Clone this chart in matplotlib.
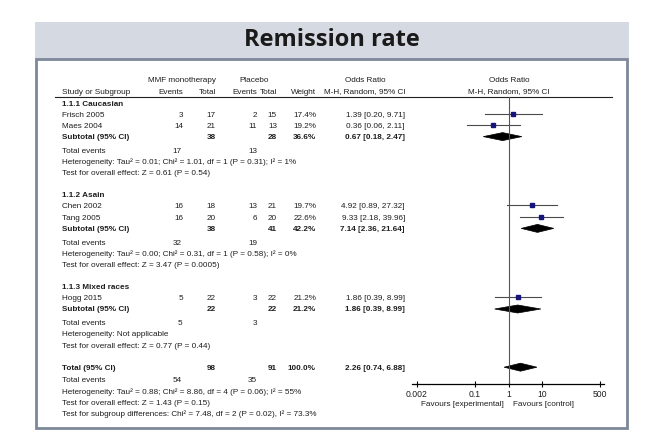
import matplotlib
matplotlib.use("Agg")
import matplotlib.pyplot as plt
from matplotlib.patches import Rectangle, Polygon

# study data
studies = ["Frisch 2005", "Maes 2004", "Chen 2002", "Tang 2005", "Hogg 2015"]
study_group = [0, 0, 1, 1, 2]
mmf_events = [3, 14, 16, 16, 5]
mmf_total = [17, 21, 18, 20, 22]
pla_events = [2, 11, 13, 6, 3]
pla_total = [15, 13, 21, 20, 22]
weights = [17.4, 19.2, 19.7, 22.6, 21.2]
or_est = [1.39, 0.36, 4.92, 9.33, 1.86]
or_lo = [0.20, 0.06, 0.89, 2.18, 0.39]
or_hi = [9.71, 2.11, 27.32, 39.96, 8.99]

# subgroups
groups = ["1.1.1 Caucasian", "1.1.2 Asain", "1.1.3 Mixed races"]
sub_mmf_total = [38, 38, 22]
sub_pla_total = [28, 41, 22]
sub_weight = [36.6, 42.2, 21.2]
sub_or = [0.67, 7.14, 1.86]
sub_lo = [0.18, 2.36, 0.39]
sub_hi = [2.47, 21.64, 8.99]
sub_mmf_events = [17, 32, 5]
sub_pla_events = [13, 19, 3]
sub_het = ["Heterogeneity: Tau² = 0.01; Chi² = 1.01, df = 1 (P = 0.31); I² = 1%",
           "Heterogeneity: Tau² = 0.00; Chi² = 0.31, df = 1 (P = 0.58); I² = 0%",
           "Heterogeneity: Not applicable"]
sub_test = ["Test for overall effect: Z = 0.61 (P = 0.54)",
            "Test for overall effect: Z = 3.47 (P = 0.0005)",
            "Test for overall effect: Z = 0.77 (P = 0.44)"]

# overall
tot_mmf_total, tot_pla_total = 98, 91
tot_weight = 100.0
tot_or, tot_lo, tot_hi = 2.26, 0.74, 6.88
tot_mmf_events, tot_pla_events = 54, 35
tot_lines = ["Heterogeneity: Tau² = 0.88; Chi² = 8.86, df = 4 (P = 0.06); I² = 55%",
             "Test for overall effect: Z = 1.43 (P = 0.15)",
             "Test for subgroup differences: Chi² = 7.48, df = 2 (P = 0.02), I² = 73.3%"]

axis_ticks = [0.002, 0.1, 1, 10, 500]
axis_labels = ["0.002", "0.1", "1", "10", "500"]

plt.rcParams['font.family'] = ['Liberation Sans', 'DejaVu Sans']
FS = 5.9
TXT = "#1e1e1e"

W, H = 650, 442
fig = plt.figure(figsize=(W / 100, H / 100), dpi=100)
fig.patch.set_facecolor("white")

# pixel-coordinate canvas for text and frame
ax = fig.add_axes([0, 0, 1, 1])
ax.set_xlim(0, W)
ax.set_ylim(H, 0)
ax.axis("off")

ax.add_patch(Rectangle((35, 22), 594, 37, facecolor="#d5dae2", edgecolor="none"))
ax.add_patch(Rectangle((36, 59), 591, 369, facecolor="white", edgecolor="#7d8898", lw=2))
ax.text(332, 40, "Remission rate", ha="center", va="center", fontsize=17,
        fontweight="bold", family=["Open Sans", "DejaVu Sans"], color="#1a1a1a")

# forest axes: log-x, y in pixel rows
x0_px, x1_px = 412, 604
fx = fig.add_axes([x0_px / W, 0, (x1_px - x0_px) / W, 1])
fx.set_xscale("log")
fx.set_xlim(0.00142, 656)
fx.set_ylim(H, 0)
fx.patch.set_alpha(0)
for s in ["top", "left", "right"]:
    fx.spines[s].set_visible(False)
fx.spines["bottom"].set_position(("data", 384))
fx.spines["bottom"].set_linewidth(0.9)
fx.set_yticks([])
fx.set_xticks(axis_ticks)
fx.set_xticklabels(axis_labels)
fx.xaxis.set_minor_locator(matplotlib.ticker.NullLocator())
fx.tick_params(axis="x", direction="inout", length=5, width=0.8, pad=1.5,
               labelsize=FS + 0.3, labelcolor=TXT)

col_ev1, col_tot1, col_ev2, col_tot2, col_w, col_or = 183, 216, 257, 277, 316, 405
x_lab = 62


def put(x, y, s, ha="right", bold=False):
    ax.text(x, y, s, ha=ha, va="center", fontsize=FS, color=TXT,
            fontweight="bold" if bold else "normal")


def diamond(y, est, lo, hi):
    fx.add_patch(Polygon([(lo, y), (est, y - 4), (hi, y), (est, y + 4)],
                         closed=True, facecolor="black", edgecolor="black", lw=0.5))


# headers
put(182, 81, "MMF monotherapy", ha="center")
put(254, 81, "Placebo", ha="center")
put(365, 81, "Odds Ratio", ha="center")
put(509, 81, "Odds Ratio", ha="center")
put(x_lab, 92, "Study or Subgroup", ha="left")
put(col_ev1, 92, "Events")
put(col_tot1, 92, "Total")
put(col_ev2, 92, "Events")
put(col_tot2, 92, "Total")
put(col_w, 92, "Weight")
put(365, 92, "M-H, Random, 95% CI", ha="center")
put(509, 92, "M-H, Random, 95% CI", ha="center")
ax.plot([55, 612], [96.5, 96.5], color="#222222", lw=0.8)

step = 11.2
y = 104
for g, name in enumerate(groups):
    put(x_lab, y, name, ha="left", bold=True)
    for i in range(len(studies)):
        if study_group[i] != g:
            continue
        y += step
        put(x_lab, y, studies[i], ha="left")
        put(col_ev1, y, str(mmf_events[i]))
        put(col_tot1, y, str(mmf_total[i]))
        put(col_ev2, y, str(pla_events[i]))
        put(col_tot2, y, str(pla_total[i]))
        put(col_w, y, "%.1f%%" % weights[i])
        put(col_or, y, "%.2f [%.2f, %.2f]" % (or_est[i], or_lo[i], or_hi[i]))
        fx.plot([or_lo[i], or_hi[i]], [y - 1.5, y - 1.5], color="#4a4a4a", lw=0.8)
        fx.plot(or_est[i], y - 1.5, marker="s", ms=2.4, color="#14147a", mec="#14147a")
    y += step
    put(x_lab, y, "Subtotal (95% CI)", ha="left", bold=True)
    put(col_tot1, y, str(sub_mmf_total[g]), bold=True)
    put(col_tot2, y, str(sub_pla_total[g]), bold=True)
    put(col_w, y, "%.1f%%" % sub_weight[g], bold=True)
    put(col_or, y, "%.2f [%.2f, %.2f]" % (sub_or[g], sub_lo[g], sub_hi[g]), bold=True)
    diamond(y - 1, sub_or[g], sub_lo[g], sub_hi[g])
    y += step + 2.6
    put(x_lab, y, "Total events", ha="left")
    put(col_ev1 - 1, y, str(sub_mmf_events[g]))
    put(col_ev2, y, str(sub_pla_events[g]))
    y += step
    put(x_lab, y, sub_het[g], ha="left")
    y += step
    put(x_lab, y, sub_test[g], ha="left")
    y += 22

put(x_lab, y, "Total (95% CI)", ha="left", bold=True)
put(col_tot1, y, str(tot_mmf_total), bold=True)
put(col_tot2, y, str(tot_pla_total), bold=True)
put(col_w, y, "%.1f%%" % tot_weight, bold=True)
put(col_or, y, "%.2f [%.2f, %.2f]" % (tot_or, tot_lo, tot_hi), bold=True)
diamond(y - 1, tot_or, tot_lo, tot_hi)
y += step + 1.5
put(x_lab, y, "Total events", ha="left")
put(col_ev1 - 1, y, str(tot_mmf_events))
put(col_ev2, y, str(tot_pla_events))
for line in tot_lines:
    y += step
    put(x_lab, y, line, ha="left")

# line of no effect
fx.plot([1, 1], [96.5, 384], color="#555555", lw=0.8)

put(504, 405, "Favours [experimental]", ha="right")
put(513, 405, "Favours [control]", ha="left")

fig.savefig("out.png", dpi=100)
